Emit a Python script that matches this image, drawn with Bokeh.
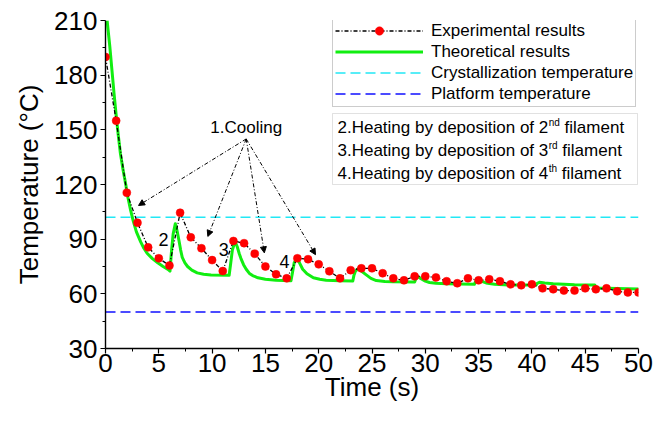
from bokeh.plotting import figure
from bokeh.models import (Range1d, Label, Arrow, NormalHead, Legend, LegendItem,
                          BoxAnnotation, FixedTicker)
from bokeh.embed import file_html
from bokeh.resources import INLINE

# ---------------- data ----------------
time_exp = list(range(51))
temp_exp = [190, 155, 115.5, 99, 85.5, 79.5, 75.5, 104.5, 91, 85,
            78.5, 72.5, 89, 87.8, 82, 75, 70.7, 68.5, 79.5, 79,
            76.2, 72.4, 68.5, 73, 74, 74, 71.3, 68.5, 67.4, 69.6,
            69.6, 69, 66.9, 65.8, 68.5, 67.4, 68, 66.9, 65.2, 64.7,
            65.2, 63, 62.5, 61.8, 61.8, 63, 62.5, 63, 61.4, 60.8, 60.8]

time_theo = [0.15, 0.4, 0.6, 0.8, 1.0, 1.2, 1.4, 1.65, 1.9, 2.1, 2.35, 2.6, 2.9,
             3.3, 3.6, 3.9, 4.4, 4.9, 5.4, 5.9, 6.05,
             6.2, 6.35, 6.55, 6.7, 6.9, 7.05, 7.2, 7.45, 7.7, 8.1, 8.6, 9.2, 9.9,
             11.6, 11.75, 11.9, 12.15, 12.35, 12.55, 12.7, 12.95, 13.2, 13.5,
             13.8, 14.3, 15.0, 16.0, 17.4,
             17.55, 17.7, 17.95, 18.2, 18.5, 18.9, 19.5, 20.1, 20.7, 22.0, 23.2,
             23.3, 23.45, 23.7, 24.0, 24.4, 24.9, 25.4, 26.2, 27.0, 29.0,
             29.1, 29.3, 29.6, 30.0, 30.4, 31.0, 32.0, 34.6,
             34.7, 35.0, 35.3, 35.7, 36.5, 37.8, 40.4,
             40.5, 40.7, 41.2, 42.0, 44.0, 45.9, 46.0, 46.2, 48.0, 50.0]
temp_theo = [210, 196, 183, 170, 158, 147, 137, 128, 120, 113, 106, 100, 94,
             88.5, 85, 82.3, 79.3, 77, 75, 73.3, 72.5,
             84, 93, 98.5, 95, 89, 84, 80, 77, 75, 73, 71.5, 70.7, 70.3,
             70.2, 77, 84, 88.8, 86, 82, 79.5, 76, 73.5, 71.2,
             70, 68.8, 68, 67.5, 67.2,
             72, 77, 79.5, 77, 73.5, 71, 68.8, 68, 67.5, 67.2, 67,
             70, 72.5, 73.8, 72.5, 70.7, 68.5, 67.3, 66.8, 66.6, 66.5,
             68, 69.5, 68.3, 67, 66.2, 65.8, 65.5, 65.2,
             66.5, 67.5, 66.8, 66, 65.3, 64.8, 64.8,
             65.8, 66.3, 65.9, 65.5, 65, 64.8, 63.8, 63.2, 62.9, 62.7]

cryst_temp = 102
platform_temp = 50
line_time = [0, 50]

x_ticks = [0, 5, 10, 15, 20, 25, 30, 35, 40, 45, 50]
x_minor = [2.5, 7.5, 12.5, 17.5, 22.5, 27.5, 32.5, 37.5, 42.5, 47.5]
y_ticks = [30, 60, 90, 120, 150, 180, 210]
y_minor = [45, 75, 105, 135, 165, 195]

cooling_src = (13.2, 145)
cooling_targets_t = [3.1, 9.6, 14.9, 19.7]
cooling_targets_T = [108.5, 91.5, 82.5, 81.5]

peak_labels = ["2", "3", "4"]
peak_label_t = [5.45, 11.1, 16.8]
peak_label_T = [90, 84.5, 78]

note_main = ["2.Heating by deposition of 2", "3.Heating by deposition of 3",
             "4.Heating by deposition of 4"]
note_sup = ["nd", "rd", "th"]
note_tail = "filament"

# ---------------- layout helpers ----------------
FONT = "Liberation Sans"
FRAME_L, FRAME_T, FRAME_W, FRAME_H = 105, 20, 533, 328
PX_PER_S = FRAME_W / 50.0
PX_PER_DEG = FRAME_H / 180.0


def xd(px):
    return (px - FRAME_L) / PX_PER_S


def yd(py):
    return 210 - (py - FRAME_T) / PX_PER_DEG


AW = {'0': .556, '1': .556, '2': .556, '3': .556, '4': .556, '5': .556, '6': .556,
      '7': .556, '8': .556, '9': .556, '.': .278, 'H': .722, 'e': .556, 'a': .556,
      't': .278, 'i': .222, 'n': .556, 'g': .556, ' ': .278, 'b': .556, 'y': .5,
      'd': .556, 'p': .556, 'o': .556, 's': .5, 'f': .278, 'l': .222, 'm': .833,
      'r': .333, 'h': .556}


def tw(s, fs):
    return sum(AW.get(c, .556) for c in s) * fs


p = figure(width=653, height=418, x_range=Range1d(0, 50), y_range=Range1d(30, 210),
           output_backend="svg", toolbar_location=None,
           min_border_left=FRAME_L, min_border_right=15, min_border_top=FRAME_T,
           min_border_bottom=70)
p.outline_line_color = None
p.grid.visible = False
p.background_fill_color = "white"
p.border_fill_color = "white"

# ---------------- glyphs ----------------
theo = p.line(time_theo, temp_theo, line_color="#11ee11", line_width=3,
              line_join="round")
cry = p.line(line_time, [cryst_temp, cryst_temp], line_color="#22e8f5",
             line_width=1.6, line_dash="10 5")
plat = p.line(line_time, [platform_temp, platform_temp], line_color="#1010ff",
              line_width=1.6, line_dash="10 5")
exp_line = p.line(time_exp, temp_exp, line_color="black", line_width=1.3,
                  line_dash="4 2 1 2")
exp_pts = p.scatter(time_exp, temp_exp, size=8, fill_color="#ff0000",
                    line_color="#ff0000", line_width=0.5)

# ---------------- axes ----------------
p.xaxis.ticker = FixedTicker(ticks=x_ticks, minor_ticks=x_minor)
p.yaxis.ticker = FixedTicker(ticks=y_ticks, minor_ticks=y_minor)
p.xaxis.axis_label = "Time (s)"
p.yaxis.axis_label = "Temperature (°C)"
for ax in (p.xaxis[0], p.yaxis[0]):
    ax.axis_line_width = 1.4
    ax.axis_line_color = "black"
    ax.major_tick_line_color = "black"
    ax.minor_tick_line_color = "black"
    ax.major_tick_line_width = 1.2
    ax.major_tick_out = 5
    ax.major_tick_in = 0
    ax.minor_tick_out = 3
    ax.minor_tick_in = 0
    ax.major_label_text_font = FONT
    ax.major_label_text_font_size = "26px"
    ax.major_label_text_color = "black"
    ax.axis_label_text_font = FONT
    ax.axis_label_text_font_size = "26px"
    ax.axis_label_text_font_style = "normal"
    ax.axis_label_text_color = "black"
p.xaxis.major_label_standoff = 0
p.xaxis.axis_label_standoff = -3
p.yaxis.major_label_standoff = 3
p.yaxis.axis_label_standoff = 7

# ---------------- legend ----------------
legend = Legend(items=[
    LegendItem(label="Experimental results", renderers=[exp_line, exp_pts]),
    LegendItem(label="Theoretical results", renderers=[theo]),
    LegendItem(label="Crystallization temperature", renderers=[cry]),
    LegendItem(label="Platform temperature", renderers=[plat]),
], location=(227, 241), glyph_width=88, glyph_height=21, label_height=21,
    spacing=0, padding=2, margin=0, label_standoff=8,
    label_text_font=FONT, label_text_font_size="17px", label_text_color="black",
    border_line_color="#9a9a9a", border_line_width=1,
    background_fill_color="white", background_fill_alpha=1)
p.add_layout(legend)

# ---------------- note box ----------------
p.add_layout(BoxAnnotation(left=xd(332), right=xd(637), top=yd(113), bottom=yd(184),
                           fill_color="white", fill_alpha=1, line_color="#9a9a9a",
                           line_width=1, level="annotation"))
FS, FS_SUP = 17, 10
row_py = [127, 150, 173]
for main, sup, py in zip(note_main, note_sup, row_py):
    x0 = 337
    p.add_layout(Label(x=xd(x0), y=yd(py), text=main, text_font=FONT,
                       text_font_size=f"{FS}px", text_align="left",
                       text_baseline="middle", text_color="black"))
    xs = x0 + tw(main, FS) + 0.5
    p.add_layout(Label(x=xd(xs), y=yd(py - 5), text=sup, text_font=FONT,
                       text_font_size=f"{FS_SUP}px", text_align="left",
                       text_baseline="middle", text_color="black"))
    xf = xs + tw(sup, FS_SUP) + tw(" ", FS)
    p.add_layout(Label(x=xd(xf), y=yd(py), text=note_tail, text_font=FONT,
                       text_font_size=f"{FS}px", text_align="left",
                       text_baseline="middle", text_color="black"))

# ---------------- annotations ----------------
p.add_layout(Label(x=cooling_src[0], y=yd(127), text="1.Cooling", text_font=FONT,
                   text_font_size="17px", text_align="center",
                   text_baseline="middle", text_color="black"))
for tx, ty in zip(cooling_targets_t, cooling_targets_T):
    p.add_layout(Arrow(x_start=cooling_src[0], y_start=cooling_src[1], x_end=tx,
                       y_end=ty, line_color="black", line_width=1,
                       line_dash="4 2 1 2",
                       end=NormalHead(size=6, fill_color="black",
                                      line_color="black")))
for lab, lx, ly in zip(peak_labels, peak_label_t, peak_label_T):
    p.add_layout(Label(x=lx, y=ly, text=lab, text_font=FONT, text_font_size="18px",
                       text_align="center", text_baseline="middle",
                       text_color="black"))

open("out.html", "w").write(file_html(p, INLINE))
